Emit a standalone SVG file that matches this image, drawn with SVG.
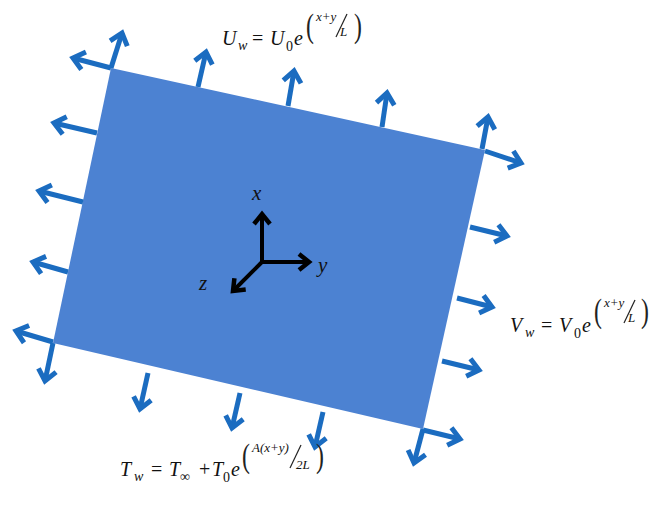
<svg xmlns="http://www.w3.org/2000/svg" width="651" height="514" viewBox="0 0 651 514">
<style>
.arr{stroke:#1B6CC0;stroke-width:5;fill:none;marker-end:url(#bh)}
.ax{stroke:#000;stroke-width:4;fill:none;marker-end:url(#kh)}
.m{font-family:"Liberation Serif","Times New Roman",serif;font-style:italic;font-size:20px;fill:#111}
.s{font-size:14px}
.sup{font-size:13px}
.n{font-style:normal}
.p{font-family:"Liberation Serif",serif;font-style:normal;font-size:34px;fill:#222}
.sl{stroke:#222;stroke-width:1.2;fill:none}
.lbl{font-family:"Liberation Serif","Times New Roman",serif;font-style:italic;font-size:21px;fill:#111}
</style>
<defs>
<marker id="bh" markerUnits="userSpaceOnUse" viewBox="-14 -12 18 24" refX="0" refY="0" markerWidth="18" markerHeight="24" orient="auto" overflow="visible">
<path d="M-11,-9 L0,0 L-11,9" fill="none" stroke="#1B6CC0" stroke-width="5" stroke-linejoin="miter"/>
</marker>
<marker id="kh" markerUnits="userSpaceOnUse" viewBox="-14 -12 18 24" refX="0" refY="0" markerWidth="18" markerHeight="24" orient="auto" overflow="visible">
<path d="M-10,-8 L0,0 L-10,8" fill="none" stroke="#000" stroke-width="4.5" stroke-linejoin="miter"/>
</marker>
</defs>
<rect width="651" height="514" fill="#fff"/>
<g id="plate">
<polygon points="111,68 485,150 423,429 53,343" fill="#4C82D2"/>
</g>
<g id="connectors">
<line class="arr" x1="111" y1="68" x2="122" y2="33"/>
<line class="arr" x1="198" y1="87" x2="206" y2="52"/>
<line class="arr" x1="288" y1="106" x2="294" y2="71"/>
<line class="arr" x1="382" y1="127" x2="387" y2="93"/>
<line class="arr" x1="482" y1="149" x2="488" y2="117"/>
<line class="arr" x1="111" y1="68" x2="73" y2="58"/>
<line class="arr" x1="97" y1="133" x2="54" y2="123"/>
<line class="arr" x1="83" y1="202" x2="39" y2="191"/>
<line class="arr" x1="68" y1="272" x2="33" y2="262"/>
<line class="arr" x1="53" y1="342" x2="16" y2="331"/>
<line class="arr" x1="53" y1="343" x2="45" y2="381"/>
<line class="arr" x1="148" y1="373" x2="140" y2="409"/>
<line class="arr" x1="240" y1="393" x2="232" y2="428"/>
<line class="arr" x1="323" y1="412" x2="315" y2="447"/>
<line class="arr" x1="423" y1="429" x2="414" y2="463"/>
<line class="arr" x1="485" y1="151" x2="521" y2="163"/>
<line class="arr" x1="470" y1="227" x2="507" y2="236"/>
<line class="arr" x1="457" y1="298" x2="492" y2="307"/>
<line class="arr" x1="442" y1="361" x2="479" y2="370"/>
<line class="arr" x1="423" y1="430" x2="460" y2="439"/>
</g>
<g id="axes">
<line class="ax" x1="262" y1="264" x2="262" y2="214"/>
<line class="ax" x1="260" y1="262" x2="309" y2="262"/>
<line class="ax" x1="263" y1="261" x2="233" y2="291"/>
<text class="lbl" x="252" y="200">x</text>
<text class="lbl" x="318" y="272">y</text>
<text class="lbl" x="199" y="290">z</text>
</g>
<g id="formula-U">
<text class="m" x="222" y="45">U</text>
<text class="m s" x="238" y="50">w</text>
<text class="m n" x="252" y="45">=</text>
<text class="m" x="270" y="45">U</text>
<text class="m s n" x="286" y="51">0</text>
<text class="m" x="294" y="45">e</text>
<text class="p" transform="translate(306,37) scale(0.7,1)">(</text>
<text class="m sup" x="316" y="21">x+y</text>
<line class="sl" x1="347" y1="14" x2="336" y2="37"/>
<text class="m sup" x="340" y="36">L</text>
<text class="p" transform="translate(354,37) scale(0.7,1)">)</text>
</g>
<g id="formula-V">
<text class="m" x="510" y="332">V</text>
<text class="m s" x="525" y="337">w</text>
<text class="m n" x="541" y="332">=</text>
<text class="m" x="559" y="332">V</text>
<text class="m s n" x="574" y="338">0</text>
<text class="m" x="582" y="332">e</text>
<text class="p" transform="translate(594,322) scale(0.7,1)">(</text>
<text class="m sup" x="604" y="307">x+y</text>
<line class="sl" x1="635" y1="300" x2="624" y2="323"/>
<text class="m sup" x="628" y="322">L</text>
<text class="p" transform="translate(641,322) scale(0.7,1)">)</text>
</g>
<g id="formula-T">
<text class="m" x="120" y="476">T</text>
<text class="m s" x="134" y="481">w</text>
<text class="m n" x="151" y="476">=</text>
<text class="m" x="169" y="476">T</text>
<text class="m s n" x="180" y="481">∞</text>
<text class="m n" x="199" y="476">+</text>
<text class="m" x="212" y="476">T</text>
<text class="m s n" x="223" y="482">0</text>
<text class="m" x="231" y="476">e</text>
<text class="p" transform="translate(242,467) scale(0.7,1)">(</text>
<text class="m sup" x="252" y="452">A(x+y)</text>
<line class="sl" x1="301" y1="445" x2="290" y2="468"/>
<text class="m sup" x="296" y="469">2L</text>
<text class="p" transform="translate(316,467) scale(0.7,1)">)</text>
</g>
</svg>
